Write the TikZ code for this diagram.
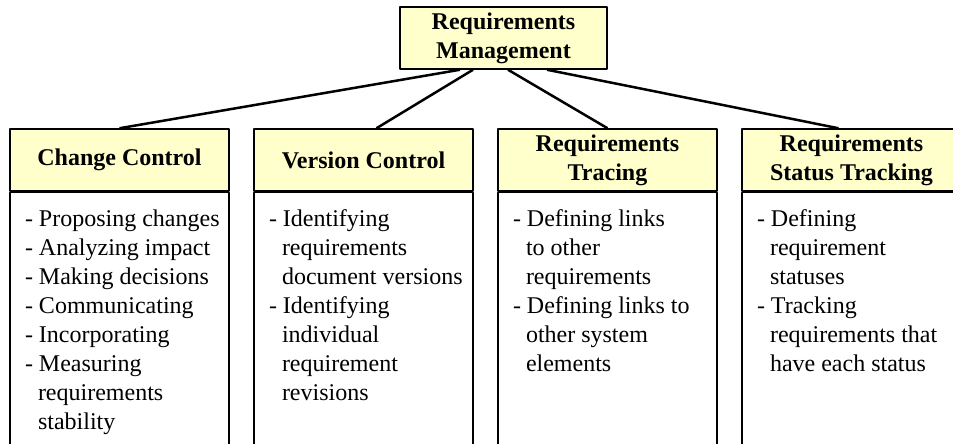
\documentclass[tikz,border=0pt]{standalone}
\usepackage{fontspec}
\setmainfont{Liberation Serif}
\definecolor{headfill}{RGB}{255,255,204}
\tikzset{
  headbox/.style={draw,rectangle,fill=headfill,line width=1.5bp,minimum width=219bp,minimum height=62bp,inner sep=0pt,align=center,font=\fontsize{24bp}{29bp}\selectfont\bfseries},
  bodybox/.style={draw,rectangle,line width=1.5bp,anchor=north,minimum width=219bp,inner xsep=0pt,inner ysep=13.7bp,font=\fontsize{24bp}{29bp}\selectfont},
  link/.style={line width=2.5bp},
}
\newcommand{\bodytext}[1]{\hspace*{15bp}\begin{minipage}[t][270bp][t]{204bp}\raggedright #1\end{minipage}}
\newcommand{\dashitem}[1]{\par\hangindent=13bp\hangafter=1\noindent\strut- #1}
\begin{document}
\begin{tikzpicture}[>=latex,line join=bevel,]
%%
\clip (0bp,0bp) rectangle (953bp,444bp);
  \node (rm) at (503.5bp,406bp) [headbox,minimum width=207bp] {Requirements\\Management};
%
  \node (cc) at (119.5bp,284bp) [headbox] {Change Control};
  \node (vc) at (363.5bp,284bp) [headbox] {Version Control};
  \node (rt) at (607.5bp,284bp) [headbox] {Requirements\\Tracing};
  \node (st) at (851.5bp,284bp) [headbox] {Requirements\\Status Tracking};
%
  \node (ccb) at (cc.south) [bodybox] {\bodytext{%
    \dashitem{Proposing changes}
    \dashitem{Analyzing impact}
    \dashitem{Making decisions}
    \dashitem{Communicating}
    \dashitem{Incorporating}
    \dashitem{Measuring\newline requirements\newline stability}}};
  \node (vcb) at (vc.south) [bodybox] {\bodytext{%
    \dashitem{Identifying\newline requirements\newline document versions}
    \dashitem{Identifying\newline individual\newline requirement\newline revisions}}};
  \node (rtb) at (rt.south) [bodybox] {\bodytext{%
    \dashitem{Defining links\newline to other\newline requirements}
    \dashitem{Defining links to\newline other system\newline elements}}};
  \node (stb) at (st.south) [bodybox] {\bodytext{%
    \dashitem{Defining\newline requirement\newline statuses}
    \dashitem{Tracking\newline requirements that\newline have each status}}};
%
  \draw [link] ([xshift=-43.5bp]rm.south) -- (cc.north);
  \draw [link] ([xshift=-30.5bp]rm.south) -- ([xshift=13bp]vc.north);
  \draw [link] ([xshift=4.5bp]rm.south) -- (rt.north);
  \draw [link] ([xshift=43.5bp]rm.south) -- ([xshift=-13bp]st.north);
%
\end{tikzpicture}
\end{document}
